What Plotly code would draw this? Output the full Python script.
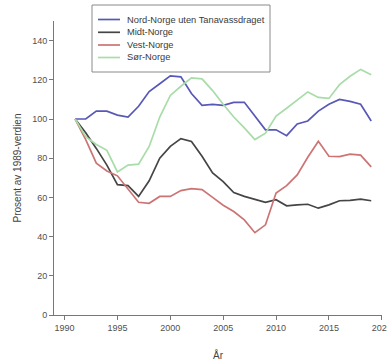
import plotly.graph_objects as go

# Year of each observation
years = list(range(1991, 2020))

# Index values (1989 = 100) per region
nord_norge = [100, 100, 104, 104, 102, 101, 106.5, 114, 118, 122, 121.5, 113, 107,
              107.5, 107, 108.5, 108.5, 101.5, 94.5, 94.5, 91.5, 97.5, 99, 104,
              107.5, 110, 109, 107.5, 99]
midt_norge = [100, 93, 85, 76.5, 66.5, 66, 60.5, 68.5, 80, 86, 90, 88.5, 81, 72.5,
              68, 62.5, 60.5, 59, 57.5, 58.8, 55.7, 56.2, 56.5, 54.5, 56.2, 58.3,
              58.5, 59.1, 58.3]
vest_norge = [100, 89.5, 77.5, 73.5, 71, 64.5, 57.5, 57, 60.5, 60.5, 63.5, 64.5, 64,
              60, 56, 52.8, 48.5, 42, 46, 62.2, 66, 71.5, 80.5, 88.6, 81, 80.8,
              82.1, 81.6, 75.6]
sor_norge = [100, 91, 87, 84, 73, 76.5, 77, 86, 101, 112, 116.7, 121, 120.5, 114.5,
             107.5, 101, 95.5, 89.5, 92.8, 101.5, 105.5, 109.5, 113.8, 111, 110.5,
             117.5, 121.8, 125.3, 122.6]

series_names = ["Nord-Norge uten Tanavassdraget", "Midt-Norge", "Vest-Norge", "Sør-Norge"]
series_values = [nord_norge, midt_norge, vest_norge, sor_norge]
colors = ["#5858b6", "#454545", "#cc7474", "#a8dca8"]

x_ticks = [1990, 1995, 2000, 2005, 2010, 2015, 2020]
y_ticks = [0, 20, 40, 60, 80, 100, 120, 140]

font_family = "Liberation Sans, Arial, sans-serif"

fig = go.Figure()
for name, vals, col in zip(series_names, series_values, colors):
    fig.add_trace(go.Scatter(x=years, y=vals, mode="lines", name=name,
                             line=dict(color=col, width=1.7), showlegend=False))

# Legend drawn as a boxed key in paper coordinates
def px_x(p):
    return (p - 54) / 328

def px_y(p):
    return (315 - p) / 294

shapes = [dict(type="rect", xref="paper", yref="paper",
               x0=px_x(92), x1=px_x(270), y0=px_y(72), y1=px_y(5),
               line=dict(color="#8a8a8a", width=1), fillcolor="white", layer="above")]
annotations = []
rows = [19.5, 32.3, 45, 57.5]
for name, col, ry in zip(series_names, colors, rows):
    shapes.append(dict(type="line", xref="paper", yref="paper",
                       x0=px_x(98), x1=px_x(120), y0=px_y(ry), y1=px_y(ry),
                       line=dict(color=col, width=1.7), layer="above"))
    annotations.append(dict(xref="paper", yref="paper", x=px_x(125), y=px_y(ry),
                            text=name, showarrow=False, xanchor="left", yanchor="middle",
                            font=dict(family=font_family, size=9.3, color="#3a3a3a")))

fig.update_layout(
    width=387, height=361,
    margin=dict(l=54, r=5, t=21, b=46),
    paper_bgcolor="white", plot_bgcolor="white",
    font=dict(family=font_family, size=9, color="#505050"),
    shapes=shapes, annotations=annotations,
    xaxis=dict(range=[1989, 2020.02], tickvals=x_ticks, ticks="outside", ticklen=4,
               tickcolor="#777777", showline=True, linecolor="#777777", linewidth=1,
               showgrid=False, zeroline=False, automargin=False,
               ticklabeloverflow="allow",
               title=dict(text="År", standoff=20, font=dict(size=10, color="#444444"))),
    yaxis=dict(range=[0, 150], tickvals=y_ticks, ticks="outside", ticklen=4,
               tickcolor="#777777", showline=True, linecolor="#777777", linewidth=1,
               showgrid=False, zeroline=False, automargin=False,
               title=dict(text="Prosent av 1989-verdien", standoff=8,
                          font=dict(size=10, color="#444444"))),
)

fig.write_html("out.html")
